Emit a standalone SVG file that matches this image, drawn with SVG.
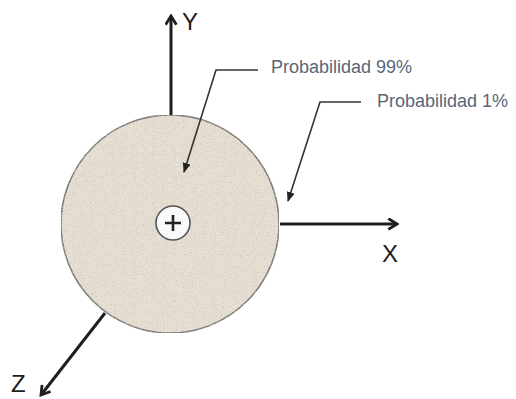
<svg xmlns="http://www.w3.org/2000/svg" width="516" height="399" viewBox="0 0 516 399">
<style>
.axis{stroke:#1e1e1e;stroke-width:3;fill:none}
.lead{stroke:#333;stroke-width:1.6;fill:none}
.lbl{font-family:"Liberation Sans",Arial,sans-serif;font-size:18px;fill:#56677a}
.ax{font-family:"Liberation Sans",Arial,sans-serif;font-size:24px;fill:#1e1e1e}
</style>
<defs>
<marker id="chev" viewBox="0 0 12 12" refX="10" refY="6" markerWidth="13" markerHeight="13" markerUnits="userSpaceOnUse" orient="auto">
<path d="M2,1 L10,6 L2,11" fill="none" stroke="#1e1e1e" stroke-width="2.6"/>
</marker>
<marker id="tri" viewBox="0 0 10 10" refX="9" refY="5" markerWidth="10" markerHeight="10" markerUnits="userSpaceOnUse" orient="auto">
<path d="M0,1 L10,5 L0,9 Z" fill="#222"/>
</marker>
<filter id="speck" x="0" y="0" width="100%" height="100%">
<feTurbulence type="fractalNoise" baseFrequency="0.9" numOctaves="2" seed="3" result="n"/>
<feColorMatrix in="n" type="matrix" values="0 0 0 0 0.62 0 0 0 0 0.56 0 0 0 0 0.46 0 0 0 -3 1.45" result="s"/>
<feComposite in="s" in2="SourceGraphic" operator="in" result="sp"/>
<feMerge><feMergeNode in="SourceGraphic"/><feMergeNode in="sp"/></feMerge>
</filter>
</defs>
<g id="body">
<circle cx="170" cy="224" r="109" fill="#e6dfd3" stroke="#7a7a7a" stroke-width="1.5" filter="url(#speck)"/>
</g>
<g id="center">
<circle cx="173" cy="223" r="17" fill="#fafafa" stroke="#555" stroke-width="1.6"/>
<path d="M165,223 H181 M173,215 V231" stroke="#222" stroke-width="2.6"/>
</g>
<g id="connectors">
<path class="axis" d="M171,115 V16" marker-end="url(#chev)"/>
<path class="axis" d="M280,224 H397" marker-end="url(#chev)"/>
<path class="axis" d="M105,313 L41,395" marker-end="url(#chev)"/>
<path class="lead" d="M258,70 H216 L184,172" marker-end="url(#tri)"/>
<path class="lead" d="M361,102 H320 L288,201" marker-end="url(#tri)"/>
</g>
<g id="label-y"><text class="ax" x="182" y="30">Y</text></g>
<g id="label-x"><text class="ax" x="382" y="262">X</text></g>
<g id="label-z"><text class="ax" x="11" y="392">Z</text></g>
<g id="label-99"><text class="lbl" x="271" y="73">Probabilidad 99%</text></g>
<g id="label-1"><text class="lbl" x="377" y="107">Probabilidad 1%</text></g>
</svg>
